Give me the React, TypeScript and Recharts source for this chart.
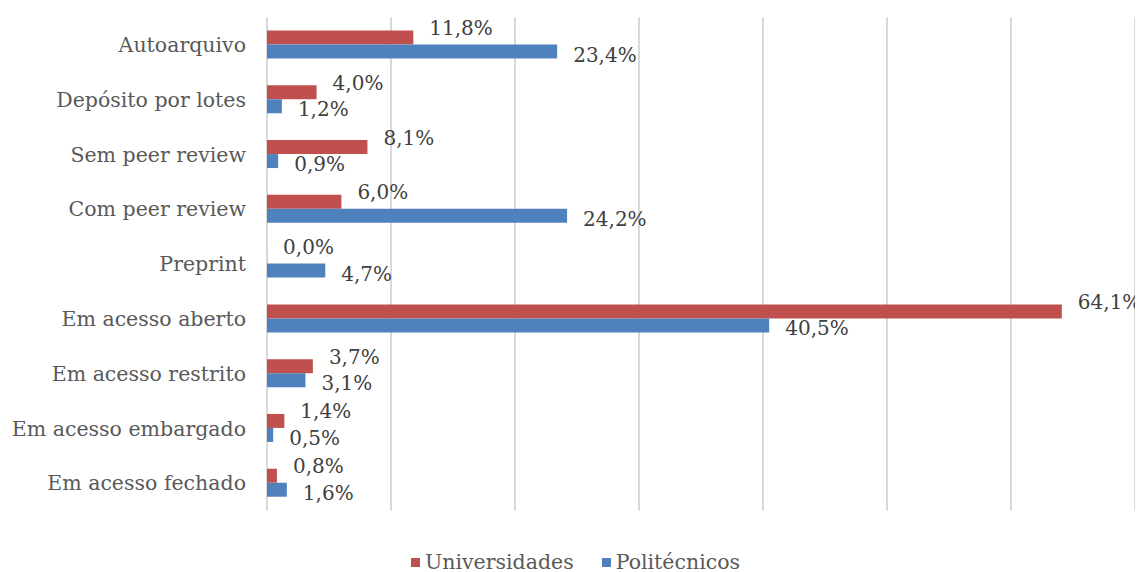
import { BarChart, Bar, XAxis, YAxis, CartesianGrid, Legend, LabelList } from 'recharts'

const categories = [
  'Autoarquivo',
  'Depósito por lotes',
  'Sem peer review',
  'Com peer review',
  'Preprint',
  'Em acesso aberto',
  'Em acesso restrito',
  'Em acesso embargado',
  'Em acesso fechado',
]
const universidades = [11.8, 4.0, 8.1, 6.0, 0.0, 64.1, 3.7, 1.4, 0.8]
const politecnicos = [23.4, 1.2, 0.9, 24.2, 4.7, 40.5, 3.1, 0.5, 1.6]
const xTicks = [0, 10, 20, 30, 40, 50, 60, 70]

const RED = '#c0504d'
const BLUE = '#4f81bd'
const FONT = "Georgia, 'DejaVu Serif', serif"

const data = categories.map((name, i) => ({
  name,
  uni: universidades[i],
  poli: politecnicos[i],
}))

const fmt = (v: number) => v.toFixed(1).replace('.', ',') + '%'

const makeLabel = (dy: number) => (props: any) => {
  const { x, y, width, height, value } = props
  return (
    <text
      x={Number(x) + Number(width) + 16}
      y={Number(y) + Number(height) / 2 + dy}
      fill="#404040"
      fontSize={20}
      fontFamily={FONT}
      textAnchor="start"
      dominantBaseline="central"
    >
      {fmt(Number(value))}
    </text>
  )
}

const LegendContent = () => (
  <div
    style={{
      display: 'flex',
      justifyContent: 'center',
      gap: 28,
      fontFamily: FONT,
      fontSize: 20.5,
      color: '#595959',
    }}
  >
    {[
      { label: 'Universidades', color: RED },
      { label: 'Politécnicos', color: BLUE },
    ].map((it) => (
      <div key={it.label} style={{ display: 'flex', alignItems: 'center', gap: 5 }}>
        <span style={{ width: 9, height: 9, background: it.color, display: 'inline-block' }} />
        <span>{it.label}</span>
      </div>
    ))}
  </div>
)

export default function App() {
  return (
    <div style={{ width: 1135, height: 564, fontFamily: FONT }}>
      <BarChart
        width={1135}
        height={564}
        data={data}
        layout="vertical"
        margin={{ top: 9.5, right: 8, bottom: 37.5, left: 0 }}
        barGap={0}
        barSize={14}
      >
        <CartesianGrid horizontal={false} stroke="#d9d9d9" strokeWidth={2} />
        <XAxis type="number" domain={[0, 70]} ticks={xTicks} hide />
        <YAxis
          type="category"
          dataKey="name"
          width={259}
          axisLine={false}
          tickLine={false}
          tickSize={0}
          tickMargin={21}
          tick={{ fill: '#595959', fontSize: 20.5, fontFamily: FONT }}
          interval={0}
        />
        <Legend
          content={<LegendContent />}
          wrapperStyle={{ position: 'absolute', top: 542, bottom: 'auto', left: 0, width: 1135 }}
        />
        <Bar dataKey="uni" name="Universidades" fill={RED} minPointSize={0.1} isAnimationActive={false}>
          <LabelList dataKey="uni" content={makeLabel(-9.5)} />
        </Bar>
        <Bar dataKey="poli" name="Politécnicos" fill={BLUE} isAnimationActive={false}>
          <LabelList dataKey="poli" content={makeLabel(3)} />
        </Bar>
      </BarChart>
    </div>
  )
}
